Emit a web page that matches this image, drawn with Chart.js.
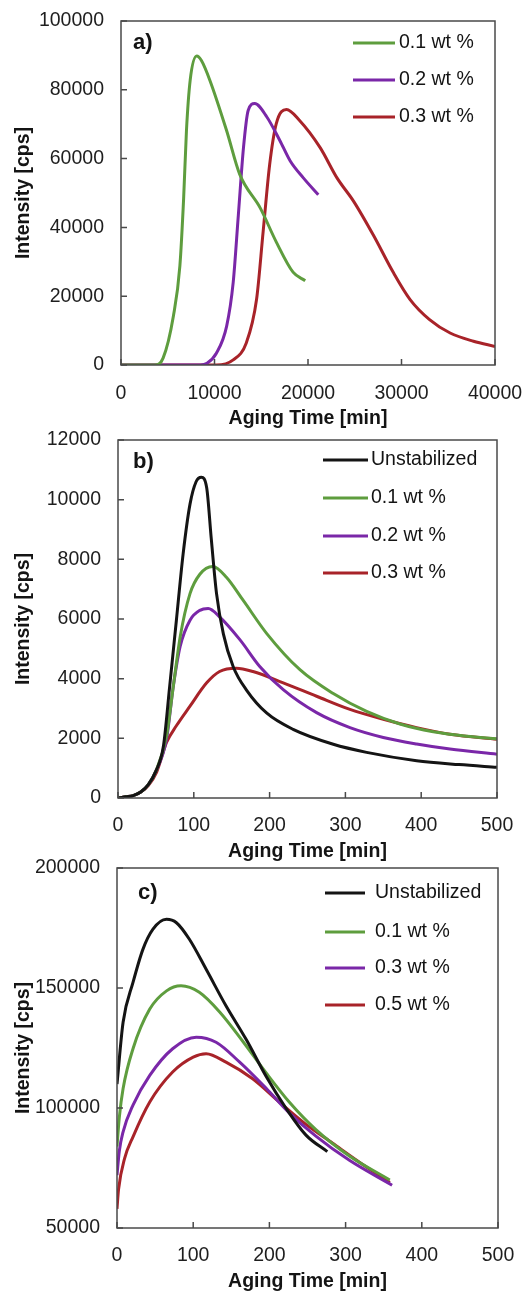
<!DOCTYPE html>
<html>
<head>
<meta charset="utf-8">
<script src="https://cdn.jsdelivr.net/npm/chart.js@4.4.1/dist/chart.umd.min.js"></script>
<style>
  body { margin: 0; background: #fff; }
  #wrap { position: relative; width: 523px; height: 1296px; }
  #wrap canvas { position: absolute; left: 0; }
</style>
</head>
<body>
<div id="wrap">
  <canvas id="chartA" width="523" height="440" style="top:0px"></canvas>
  <canvas id="chartB" width="523" height="450" style="top:418px"></canvas>
  <canvas id="chartC" width="523" height="450" style="top:846px"></canvas>
</div>
<script>
// ---- panel a) : long-term aging, x in minutes ----
const aTicksX = [0, 10000, 20000, 30000, 40000];
const aTicksY = [0, 20000, 40000, 60000, 80000, 100000];
const aLabels = ['0.1 wt %', '0.2 wt %', '0.3 wt %'];

const aTime01 = [0, 3600, 4500, 5600, 6300, 6700, 7000, 7400, 8100, 8600, 9500, 11300, 12700, 14900, 16600, 18400, 19700];
const aInt01  = [0, 0, 2000, 14200, 28900, 48500, 68100, 82800, 89800, 88500, 82800, 68100, 55400, 45600, 35800, 27000, 24500];
const aTime02 = [0, 8500, 9200, 10200, 11300, 12000, 12550, 13100, 13600, 14300, 15600, 17000, 18100, 19500, 21100];
const aInt02  = [0, 0, 500, 3400, 11300, 24000, 43600, 63200, 74000, 76000, 72100, 65200, 59300, 54400, 49500];
const aTime03 = [0, 10200, 12000, 13400, 14500, 15200, 15900, 16600, 17700, 19100, 21300, 23100, 24900, 27000, 29100, 30900, 33000, 35200, 37700, 40000];
const aInt03  = [0, 0, 1500, 6400, 19100, 38700, 58300, 70100, 74300, 71100, 63200, 54400, 47500, 37700, 27000, 19100, 13200, 9300, 6900, 5400];

// ---- panel b) ----
const bTicksX = [0, 100, 200, 300, 400, 500];
const bTicksY = [0, 2000, 4000, 6000, 8000, 10000, 12000];
const bLabels = ['Unstabilized', '0.1 wt %', '0.2 wt %', '0.3 wt %'];

const bTimeU = [0, 10, 20, 30, 40, 50, 60, 68, 77, 86, 95, 103, 110, 117, 123, 130, 139, 152, 170, 196, 231, 284, 328, 394, 450, 500];
const bIntU  = [0, 40, 80, 200, 450, 900, 1750, 3700, 5950, 8200, 9850, 10600, 10750, 10400, 8700, 6850, 5500, 4400, 3600, 2850, 2300, 1800, 1530, 1250, 1120, 1030];
const bTime01 = [0, 10, 20, 30, 40, 50, 64, 73, 82, 95, 108, 125, 143, 165, 196, 240, 284, 328, 372, 416, 460, 500];
const bInt01  = [0, 40, 80, 200, 450, 900, 2080, 3750, 5400, 6850, 7500, 7760, 7400, 6630, 5520, 4300, 3500, 2900, 2480, 2220, 2070, 1990];
const bTime02 = [0, 10, 20, 30, 40, 50, 64, 73, 82, 95, 108, 119, 134, 161, 187, 218, 262, 306, 350, 394, 438, 500];
const bInt02  = [0, 40, 80, 200, 450, 900, 1970, 3750, 5080, 5960, 6290, 6350, 6070, 5300, 4410, 3630, 2860, 2360, 2030, 1810, 1640, 1470];
const bTime03 = [0, 10, 20, 30, 40, 51, 64, 77, 95, 117, 134, 156, 178, 218, 262, 306, 350, 394, 438, 500];
const bInt03  = [0, 40, 80, 200, 420, 870, 1860, 2420, 3080, 3860, 4240, 4350, 4240, 3860, 3410, 2970, 2640, 2360, 2140, 1970];

// ---- panel c) ----
const cTicksX = [0, 100, 200, 300, 400, 500];
const cTicksY = [50000, 100000, 150000, 200000];
const cLabels = ['Unstabilized', '0.1 wt %', '0.3 wt %', '0.5 wt %'];

const cTimeU = [0, 8, 21, 34, 47, 65, 78, 95, 117, 143, 170, 196, 222, 248, 276];
const cIntU  = [110000, 135700, 152300, 166100, 174400, 178600, 177200, 170300, 157800, 142600, 128300, 113000, 99800, 88700, 81800];
const cTime01 = [0, 3, 8, 21, 43, 65, 84, 108, 135, 165, 196, 226, 261, 305, 358];
const cInt01  = [84000, 96000, 108100, 124700, 141200, 148800, 150900, 148200, 139900, 127800, 114500, 102500, 91000, 80000, 70000];
const cTime03 = [0, 3, 8, 21, 43, 73, 104, 130, 161, 196, 226, 261, 305, 361];
const cInt03  = [72000, 82000, 90100, 101200, 113600, 124700, 129500, 127400, 119100, 108100, 98000, 88300, 78200, 67800];
const cTime05 = [0, 2, 10, 21, 43, 73, 100, 117, 143, 178, 213, 248, 283, 320, 358];
const cInt05  = [58000, 66000, 79000, 88000, 102500, 115000, 121200, 122600, 119100, 112200, 102500, 93200, 85300, 77000, 69000];

const COLORS = { black: '#141414', green: '#5e9d3e', purple: '#7a27a8', red: '#a82329' };
const FONT = '"Liberation Sans", Arial, sans-serif';
const FS = 19.5;
const LH = FS * 1.2;

// box, inside tick marks, legend and panel tag
const framePlugin = {
    id: 'frame',
    afterDatasetsDraw(chart, args, opts) {
        const { ctx, chartArea: ca, scales: { x, y } } = chart;
        ctx.save();
        ctx.strokeStyle = '#4a4a4a';
        ctx.lineWidth = 1.5;
        ctx.strokeRect(ca.left, ca.top, ca.right - ca.left, ca.bottom - ca.top);
        ctx.beginPath();
        x.ticks.forEach(t => {
            const px = x.getPixelForValue(t.value);
            ctx.moveTo(px, ca.bottom);
            ctx.lineTo(px, ca.bottom - 6);
        });
        y.ticks.forEach(t => {
            const py = y.getPixelForValue(t.value);
            ctx.moveTo(ca.left, py);
            ctx.lineTo(ca.left + 6, py);
        });
        ctx.stroke();

        ctx.font = `${FS}px ${FONT}`;
        ctx.textBaseline = 'middle';
        ctx.fillStyle = '#141414';
        chart.data.datasets.forEach((ds, i) => {
            const yy = opts.rowY[i];
            ctx.strokeStyle = ds.borderColor;
            ctx.lineWidth = 3;
            ctx.beginPath();
            ctx.moveTo(opts.x1, yy);
            ctx.lineTo(opts.x2, yy);
            ctx.stroke();
            ctx.fillText(ds.label, opts.textX, yy);
        });

        ctx.font = `bold 22px ${FONT}`;
        ctx.fillText(opts.tag, opts.tagX, opts.tagY);
        ctx.restore();
    }
};

function makeChart(id, cfg) {
    const { area, titleY, height } = cfg;
    const padB = height - titleY - LH / 2;
    const tickFont = { family: FONT, size: FS };
    const titleFont = { family: FONT, size: FS, weight: 'bold' };

    return new Chart(document.getElementById(id), {
        type: 'line',
        data: {
            datasets: cfg.series.map(s => ({
                label: s.label,
                data: s.x.map((x, j) => ({ x: x, y: s.y[j] })),
                borderColor: s.color,
                borderWidth: 3,
                pointRadius: 0,
                fill: false,
                cubicInterpolationMode: 'monotone'
            }))
        },
        options: {
            responsive: false,
            animation: false,
            events: [],
            layout: { padding: { left: 0, top: area.top, right: 523 - area.right, bottom: padB } },
            plugins: {
                legend: { display: false },
                tooltip: { enabled: false },
                frame: cfg.legend
            },
            scales: {
                x: {
                    type: 'linear',
                    min: cfg.ticksX[0],
                    max: cfg.ticksX[cfg.ticksX.length - 1],
                    afterBuildTicks: s => { s.ticks = cfg.ticksX.map(v => ({ value: v })); },
                    afterFit: s => {
                        s.height = height - padB - area.bottom;
                        s.paddingLeft = 0;
                        s.paddingRight = 0;
                    },
                    grid: { display: false },
                    border: { display: false },
                    ticks: { font: tickFont, color: '#1e1e1e', padding: cfg.xTickPad, maxRotation: 0, callback: v => String(v) },
                    title: { display: true, text: 'Aging Time [min]', font: titleFont, color: '#141414', padding: { top: 0, bottom: 0 } }
                },
                y: {
                    min: cfg.ticksY[0],
                    max: cfg.ticksY[cfg.ticksY.length - 1],
                    afterBuildTicks: s => { s.ticks = cfg.ticksY.map(v => ({ value: v })); },
                    afterFit: s => {
                        s.width = area.left;
                        s.paddingTop = 0;
                        s.paddingBottom = 0;
                    },
                    grid: { display: false },
                    border: { display: false },
                    ticks: { font: tickFont, color: '#1e1e1e', padding: 9, callback: v => String(v) },
                    title: { display: true, text: 'Intensity [cps]', font: titleFont, color: '#141414', padding: { top: 12, bottom: 0 } }
                }
            }
        },
        plugins: [framePlugin]
    });
}

makeChart('chartA', {
    height: 440,
    area: { left: 121, right: 495, top: 21, bottom: 365 },
    titleY: 419,
    xTickPad: 9,
    ticksX: aTicksX,
    ticksY: aTicksY,
    series: [
        { label: aLabels[0], x: aTime01, y: aInt01, color: COLORS.green },
        { label: aLabels[1], x: aTime02, y: aInt02, color: COLORS.purple },
        { label: aLabels[2], x: aTime03, y: aInt03, color: COLORS.red }
    ],
    legend: { x1: 353, x2: 395, textX: 399, rowY: [43, 80, 117], tag: 'a)', tagX: 133, tagY: 43 }
});

makeChart('chartB', {
    height: 450,
    area: { left: 118, right: 497, top: 22, bottom: 380 },
    titleY: 434,
    xTickPad: 8,
    ticksX: bTicksX,
    ticksY: bTicksY,
    series: [
        { label: bLabels[0], x: bTimeU, y: bIntU, color: COLORS.black },
        { label: bLabels[1], x: bTime01, y: bInt01, color: COLORS.green },
        { label: bLabels[2], x: bTime02, y: bInt02, color: COLORS.purple },
        { label: bLabels[3], x: bTime03, y: bInt03, color: COLORS.red }
    ],
    legend: { x1: 323, x2: 368, textX: 371, rowY: [42, 80, 118, 155], tag: 'b)', tagX: 133, tagY: 44 }
});

makeChart('chartC', {
    height: 450,
    area: { left: 117, right: 498, top: 22, bottom: 382 },
    titleY: 436,
    xTickPad: 8,
    ticksX: cTicksX,
    ticksY: cTicksY,
    series: [
        { label: cLabels[0], x: cTimeU, y: cIntU, color: COLORS.black },
        { label: cLabels[1], x: cTime01, y: cInt01, color: COLORS.green },
        { label: cLabels[2], x: cTime03, y: cInt03, color: COLORS.purple },
        { label: cLabels[3], x: cTime05, y: cInt05, color: COLORS.red }
    ],
    legend: { x1: 325, x2: 365, textX: 375, rowY: [47, 86, 122, 159], tag: 'c)', tagX: 138, tagY: 47 }
});
</script>
</body>
</html>
